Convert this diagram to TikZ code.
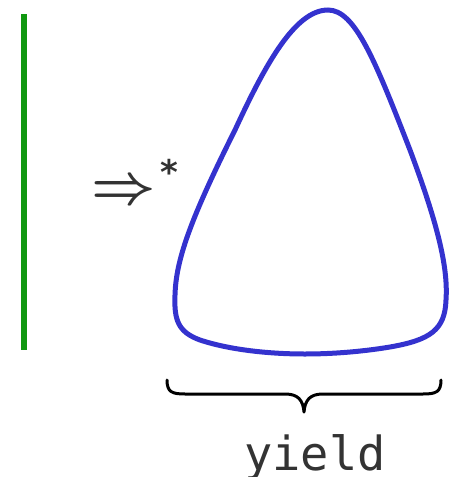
\RequirePackage{fix-cm}
\documentclass[tikz,border=0pt]{standalone}
\usepackage{fontspec}
\newfontfamily\djsans{DejaVu Sans}
\newfontfamily\djmono{DejaVu Sans Mono}
\definecolor{shapeblue}{RGB}{52,50,206}
\definecolor{treegreen}{RGB}{16,152,16}
\definecolor{txtgray}{RGB}{51,51,51}
\tikzset{
  blob/.style={draw=shapeblue, line width=5pt},
  spine/.style={draw=treegreen, line width=6pt},
  bracepath/.style={draw=black, line width=3pt, line cap=round, line join=round},
  lbl/.style={inner sep=0pt, text=txtgray}
}
\begin{document}
\begin{tikzpicture}[x=1pt,y=-1pt]
\useasboundingbox (0,0) rectangle (452,477);
\coordinate (gtop) at (24,14);
\coordinate (gbot) at (24,350);
\draw[spine] (gtop) -- (gbot);
\draw[blob] (328,10) .. controls (355,10) and (375,60) .. (410,150)
  .. controls (440,230) and (448,270) .. (446,300)
  .. controls (445,330) and (430,340) .. (390,347)
  .. controls (360,352) and (330,354) .. (305,354)
  .. controls (270,354) and (230,350) .. (200,340)
  .. controls (178,332) and (174,320) .. (175,295)
  .. controls (176,260) and (190,220) .. (235,130)
  .. controls (265,65) and (295,10) .. cycle;
\node[lbl, font=\fontsize{56}{56}\selectfont\boldmath] (arr) at (124,192.5) {$\Rightarrow$};
\node[lbl, font=\djsans\bfseries\fontsize{34}{34}\selectfont] (star) at (169,172) {*};
\draw[bracepath] (167,380) .. controls (167,392) and (172,394) .. (185,394) -- (285,394)
  .. controls (298,394) and (303,400) .. (304,412)
  .. controls (305,400) and (310,394) .. (323,394) -- (423,394)
  .. controls (436,394) and (441,392) .. (441,380);
\node[lbl, anchor=base, font=\djmono\fontsize{47}{47}\selectfont] (yield) at (315,470) {yield};
\end{tikzpicture}
\end{document}
